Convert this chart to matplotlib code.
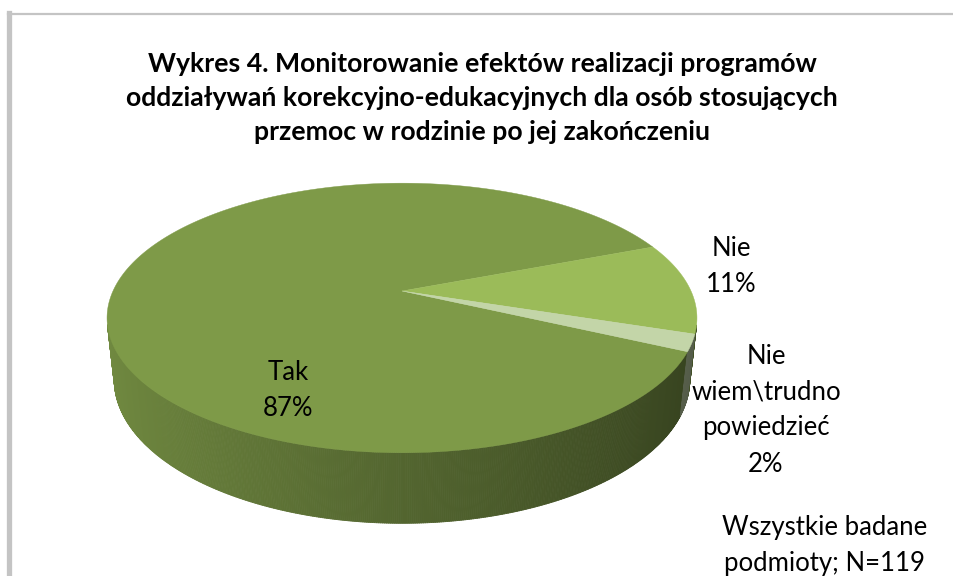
import numpy as np
import matplotlib
matplotlib.use("Agg")
import matplotlib.pyplot as plt
from matplotlib.collections import PolyCollection
from matplotlib.patches import Polygon
from matplotlib.lines import Line2D

plt.rcParams["font.family"] = ["Lato", "DejaVu Sans"]

TITLE = ("Wykres 4. Monitorowanie efektów realizacji programów\n"
         "oddziaływań korekcyjno-edukacyjnych dla osób stosujących\n"
         "przemoc w rodzinie po jej zakończeniu")
LABELS = ["Tak", "Nie", "Nie\nwiem\\trudno\npowiedzieć"]
PCTS = [87, 11, 2]
COLORS = ["#7E9A48", "#9BBB59", "#C3D5A8"]
NOTE = "Wszystkie badane\npodmioty; N=119"

# 3d pie geometry (pixel space), Excel-like perspective
W, H = 954, 576
CX, CY, S = 402, 291, 289
ELEV = np.radians(26.6)
DIST = 4.47
THICK = 0.24
START = 334.6           # where the first slice begins, going clockwise


def proj(th, z):
    """circle point at angle th (deg), height z -> pixel coords"""
    t = np.radians(th)
    X, Y = np.cos(t), np.sin(t)
    depth = Y * np.cos(ELEV) - z * np.sin(ELEV) + DIST
    u = X * DIST / depth
    v = (Y * np.sin(ELEV) + z * np.cos(ELEV)) * DIST / depth
    return CX + S * u, CY - S * v


def centre(z):
    depth = -z * np.sin(ELEV) + DIST
    v = z * np.cos(ELEV) * DIST / depth
    return CX, CY - S * v


fig = plt.figure(figsize=(W / 100, H / 100), dpi=100)
ax = fig.add_axes([0, 0, 1, 1])
ax.set_xlim(0, W)
ax.set_ylim(H, 0)
ax.axis("off")

# frame remnants
ax.add_line(Line2D([8, W], [14, 14], color="#c4c4c4", lw=1.6))
ax.add_line(Line2D([9.5, 9.5], [13, H], color="#c4c4c4", lw=3.8))

spans = []
a = START
for p in PCTS:
    a1 = a - p * 3.6
    spans.append((a1, a))
    a = a1

# outer walls, front-facing only, shaded left to right
polys, cols = [], []
for (a0, a1), col in zip(spans, COLORS):
    base = np.array(matplotlib.colors.to_rgb(col))
    th = np.linspace(a0, a1, max(int((a1 - a0) * 3), 2))
    for t0, t1 in zip(th[:-1], th[1:]):
        tm = np.radians(0.5 * (t0 + t1))
        if 1 + DIST * np.cos(ELEV) * np.sin(tm) > 0:
            continue
        p0, p1 = proj(t0, 0), proj(t1, 0)
        q1, q0 = proj(t1, -THICK), proj(t0, -THICK)
        polys.append([p0, p1, q1, q0])
        f = 0.66 - 0.24 * np.cos(tm)
        cols.append(np.clip(base * f, 0, 1))
ax.add_collection(PolyCollection(polys, facecolors=cols, edgecolors=cols,
                                 linewidths=0.6))

# top faces
for (a0, a1), col in zip(spans, COLORS):
    th = np.linspace(a0, a1, max(int((a1 - a0) * 2), 4))
    xs, ys = proj(th, 0)
    pts = [centre(0)] + list(zip(xs, ys))
    ax.add_patch(Polygon(pts, closed=True, facecolor=col, edgecolor=col,
                         lw=0.3))

ax.text(482, 98, TITLE, ha="center", va="center", fontsize=19.2,
        fontweight="bold", linespacing=1.52)

lab_pos = [(288, 390), (731, 266), (766, 410)]
for lab, p, (x, y) in zip(LABELS, PCTS, lab_pos):
    ax.text(x, y, f"{lab}\n{p}%", ha="center", va="center", fontsize=18.5,
            linespacing=1.55)
ax.text(825, 546, NOTE, ha="center", va="center", fontsize=18.5,
        linespacing=1.55)

fig.savefig("out.png", dpi=100)
